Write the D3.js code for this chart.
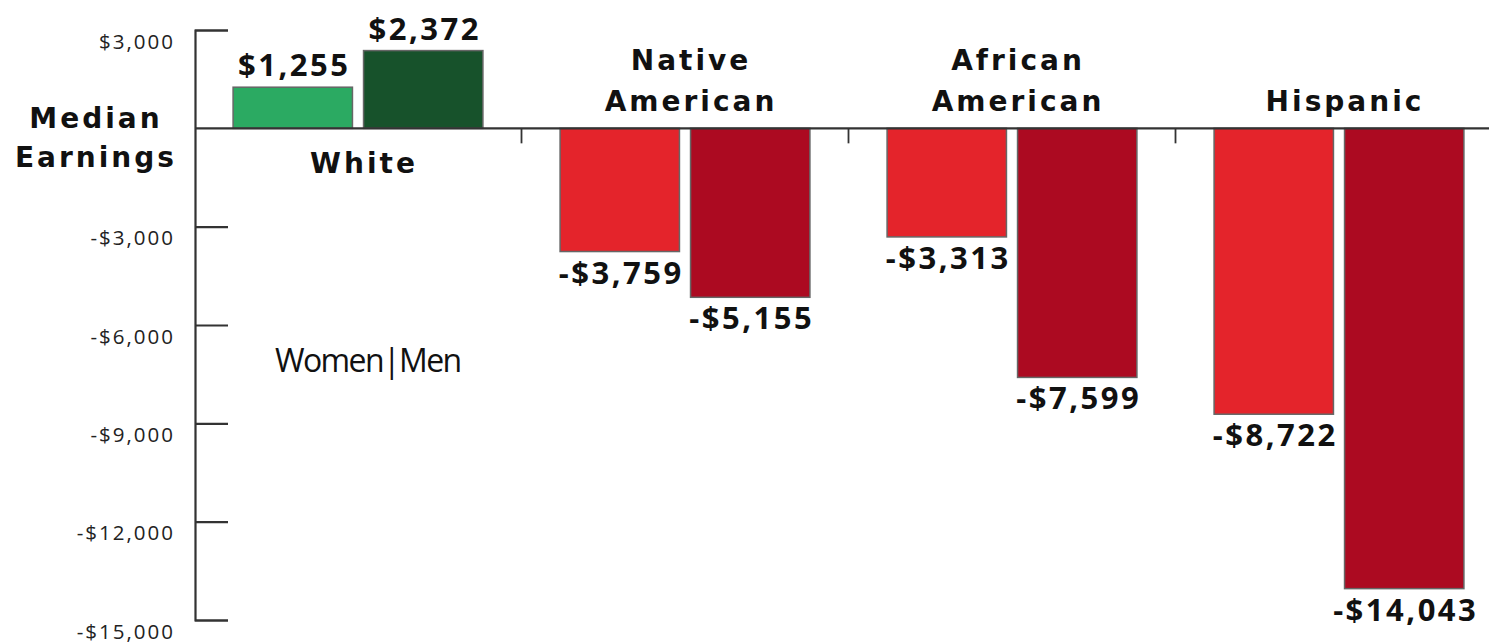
<!DOCTYPE html>
<html>
<head>
<meta charset="utf-8">
<script src="https://cdn.jsdelivr.net/npm/d3@7"></script>
<style>
  body { margin: 0; background: #fff; }
  svg { display: block; }
</style>
</head>
<body>
<div id="chart"></div>
<script>
// chart data
var categories = ["White", "Native American", "African American", "Hispanic"];
var categoryLines = [["White"], ["Native", "American"], ["African", "American"], ["Hispanic"]];
var sexes = ["Women", "Men"];
var womenValues = [1255, -3759, -3313, -8722];
var menValues = [2372, -5155, -7599, -14043];
var tickValues = [3000, -3000, -6000, -9000, -12000, -15000];

var svgWidth = 1489;
var svgHeight = 644;

var margin = { top: 30, right: 0, bottom: 24, left: 195 };

var svg = d3.select("#chart")
  .append("svg")
  .attr("width", svgWidth)
  .attr("height", svgHeight);

// scales
var y = d3.scaleLinear()
  .domain([3000, -15000])
  .range([margin.top, svgHeight - margin.bottom]);

var x0 = d3.scaleBand()
  .domain(categories)
  .range([margin.left - 0.5, margin.left - 0.5 + 4 * 327]);

var x1 = d3.scaleBand()
  .domain(sexes)
  .range([x0.bandwidth() * 0.118, x0.bandwidth() * 0.882])
  .paddingInner(0.085);

var colors = {
  pos: { Women: "#2baa62", Men: "#17522b" },
  neg: { Women: "#e4242b", Men: "#ac0a21" }
};

var rows = [];
categories.forEach(function (c, i) {
  rows.push({ cat: c, sex: "Women", value: womenValues[i] });
  rows.push({ cat: c, sex: "Men", value: menValues[i] });
});

// bars
svg.append("g")
  .selectAll("rect")
  .data(rows)
  .enter()
  .append("rect")
  .attr("x", d => x0(d.cat) + x1(d.sex))
  .attr("y", d => y(Math.max(0, d.value)))
  .attr("width", x1.bandwidth())
  .attr("height", d => Math.abs(y(d.value) - y(0)))
  .attr("fill", d => d.value >= 0 ? colors.pos[d.sex] : colors.neg[d.sex])
  .attr("stroke", "#666")
  .attr("stroke-width", 1.5);

// value labels
svg.append("g")
  .selectAll("text")
  .data(rows)
  .enter()
  .append("text")
  .attr("x", d => x0(d.cat) + x1(d.sex) + x1.bandwidth() / 2 + 1.5)
  .attr("y", d => d.value >= 0 ? y(d.value) - 11 : y(d.value) + 32)
  .attr("text-anchor", "middle")
  .style("font-family", "'Open Sans', sans-serif")
  .style("font-weight", 700)
  .style("font-size", "31px")
  .style("letter-spacing", "2.5px")
  .attr("fill", "#111")
  .text(d => (d.value < 0 ? "-$" : "$") + d3.format(",")(Math.abs(d.value)));

// y axis
var leftAxis = d3.axisLeft(y)
  .tickValues(tickValues)
  .tickSize(-33)
  .tickPadding(20)
  .tickFormat(d => (d < 0 ? "-$" : "$") + d3.format(",")(Math.abs(d)));

var yAxis = svg.append("g")
  .attr("transform", `translate(${margin.left}, 0)`)
  .call(leftAxis);

yAxis.select(".domain").attr("stroke", "#333").attr("stroke-width", 2.2);
yAxis.selectAll(".tick line").attr("stroke", "#333").attr("stroke-width", 2.2);
yAxis.selectAll(".tick text")
  .attr("dy", 18)
  .attr("fill", "#222")
  .style("font-family", "'Open Sans', sans-serif")
  .style("font-size", "20.5px")
  .style("letter-spacing", "2px");

// zero line
svg.append("line")
  .attr("x1", margin.left)
  .attr("x2", svgWidth)
  .attr("y1", y(0))
  .attr("y2", y(0))
  .attr("stroke", "#333")
  .attr("stroke-width", 2.2);

// group separator ticks
svg.append("g")
  .selectAll("line")
  .data(categories.slice(1))
  .enter()
  .append("line")
  .attr("x1", d => x0(d))
  .attr("x2", d => x0(d))
  .attr("y1", y(0))
  .attr("y2", y(0) + 15)
  .attr("stroke", "#333")
  .attr("stroke-width", 1.8);

// category labels
categories.forEach(function (c, i) {
  var lines = categoryLines[i];
  var positive = womenValues[i] >= 0;
  var cx = x0(c) + x0.bandwidth() / 2 + 6;
  lines.forEach(function (line, j) {
    var baseY = positive ? y(0) + 45 + j * 41 : y(0) - 17 - (lines.length - 1 - j) * 41;
    svg.append("text")
      .attr("x", cx)
      .attr("y", baseY)
      .attr("text-anchor", "middle")
      .style("font-family", "'DejaVu Sans', sans-serif")
      .style("font-weight", 700)
      .style("font-size", "28px")
      .style("letter-spacing", "3px")
      .attr("fill", "#111")
      .text(line);
  });
});

// y axis title
["Median", "Earnings"].forEach(function (t, j) {
  svg.append("text")
    .attr("x", 96)
    .attr("y", y(0) + j * 39)
    .attr("text-anchor", "middle")
    .style("font-family", "'DejaVu Sans', sans-serif")
    .style("font-weight", 700)
    .style("font-size", "28px")
    .style("letter-spacing", "3px")
    .attr("fill", "#111")
    .text(t);
});

// legend note
svg.append("text")
  .attr("x", 275)
  .attr("y", 372)
  .style("font-family", "'Open Sans', sans-serif")
  .style("font-size", "32px")
  .style("letter-spacing", "-1.6px")
  .attr("fill", "#111")
  .text(sexes.join("|"));
</script>
</body>
</html>
